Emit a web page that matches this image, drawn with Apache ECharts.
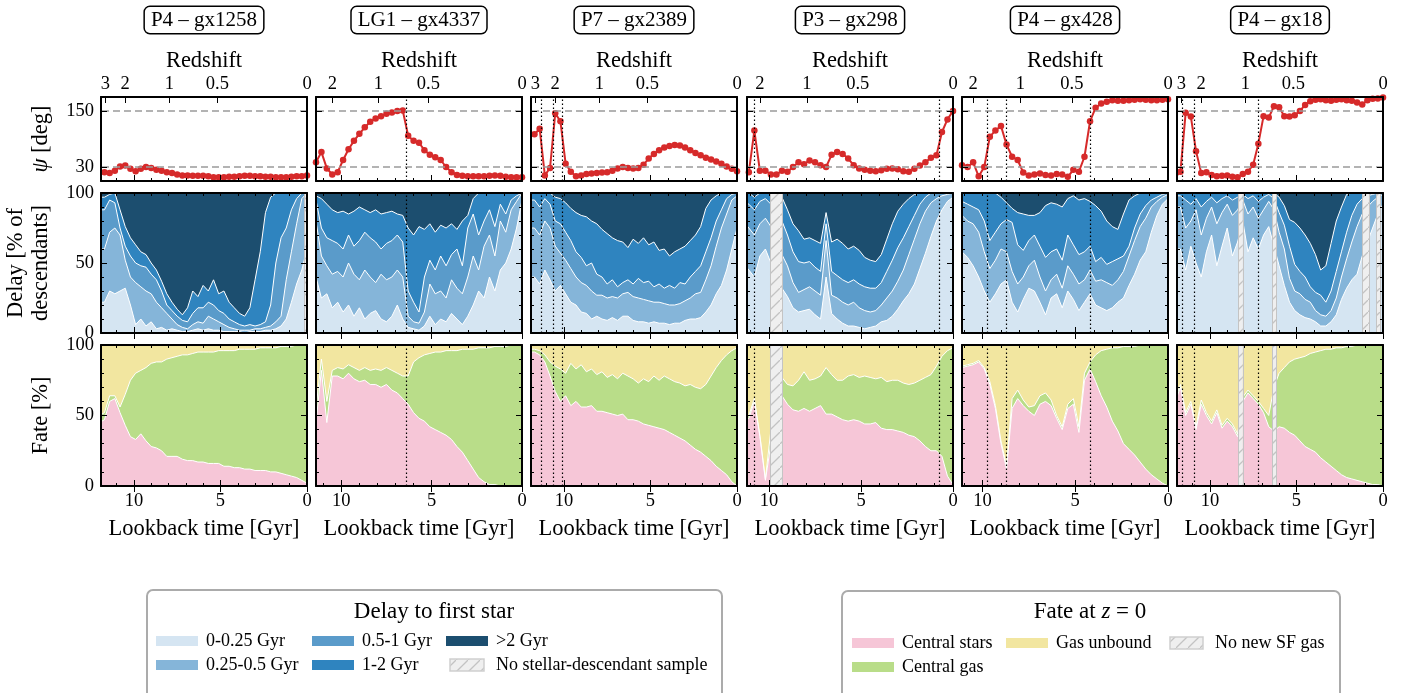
<!DOCTYPE html>
<html>
<head>
<meta charset="utf-8">
<title>Misalignment angle, delay to first star and fate of star-forming gas</title>
<script src="https://cdn.jsdelivr.net/npm/echarts@6.0.0/dist/echarts.min.js"></script>
<style>
  html, body { margin: 0; padding: 0; background: #fff; }
  #chart { width: 1416px; height: 693px; }
</style>
</head>
<body>
<div id="chart"></div>
<script>
// ---------------------------------------------------------------- data
const galaxies = ['P4 – gx1258', 'LG1 – gx4337', 'P7 – gx2389', 'P3 – gx298', 'P4 – gx428', 'P4 – gx18'];

// lookback time of each snapshot [Gyr]
const lookback = [12.0, 11.7, 11.4, 11.1, 10.8, 10.5, 10.2, 9.9, 9.6, 9.3, 9.0, 8.7, 8.4, 8.1, 7.8, 7.5, 7.2, 6.9, 6.6, 6.3,
  6.0, 5.7, 5.4, 5.1, 4.8, 4.5, 4.2, 3.9, 3.6, 3.3, 3.0, 2.7, 2.4, 2.1, 1.8, 1.5, 1.2, 0.9, 0.6, 0.3, 0.0];

// oldest lookback time shown for each galaxy [Gyr]
const axisMaxGyr = [11.9, 11.4, 11.9, 11.2, 11.1, 11.9];

// redshift tick labels on the top axis and their lookback times
const redshiftLabels = ['3', '2', '1', '0.5', '0'];
const redshiftGyr = [11.65, 10.5, 7.95, 5.18, 0];
const gyrMinorTicks = [0, 1, 2, 3, 4, 5, 6, 7, 8, 9, 10, 11];
const gyrMajorTicks = [0, 5, 10];
const psiTicks = [30, 150];

// misalignment angle psi [deg], one row per galaxy
const psiDeg = [
  [19, 19, 17, 22, 31, 33, 26, 21, 26, 30, 28, 24, 22, 19, 17, 14, 12, 12, 11, 11, 11, 10, 8, 8, 8, 9, 9, 10, 11, 11, 10, 10, 9, 9, 8, 8, 8, 9, 10, 10, 12],
  [40, 40, 40, 62, 27, 14, 19, 45, 68, 86, 101, 115, 127, 134, 139, 144, 147, 150, 151, 97, 86, 82, 66, 56, 51, 45, 30, 19, 13, 11, 10, 10, 10, 10, 11, 12, 11, 9, 8, 8, 8],
  [95, 100, 112, 12, 28, 145, 128, 37, 20, 10, 12, 15, 16, 17, 18, 19, 22, 27, 30, 28, 27, 28, 35, 48, 58, 66, 72, 75, 77, 76, 72, 66, 60, 55, 50, 46, 42, 37, 31, 26, 21],
  [20, 20, 20, 19, 108, 22, 22, 14, 14, 22, 20, 30, 40, 36, 44, 40, 34, 30, 56, 62, 58, 48, 34, 27, 24, 22, 21, 23, 26, 27, 25, 21, 20, 26, 33, 40, 50, 55, 105, 132, 150],
  [34, 34, 34, 34, 30, 40, 10, 30, 95, 108, 118, 78, 52, 45, 18, 12, 14, 16, 13, 12, 15, 14, 9, 24, 20, 52, 128, 157, 166, 170, 173, 172, 172, 173, 174, 175, 174, 173, 173, 174, 175],
  [8, 20, 146, 138, 64, 17, 19, 13, 10, 11, 12, 9, 8, 15, 20, 35, 80, 139, 136, 160, 158, 139, 138, 141, 150, 163, 171, 174, 175, 173, 172, 174, 175, 173, 172, 168, 164, 173, 176, 177, 179]
];

// share of stellar descendants formed within a given delay [%, cumulative]
const delayBelow2 = [
  [97, 97, 99, 100, 88, 76, 68, 63, 58, 56, 50, 45, 37, 28, 22, 17, 13, 18, 30, 26, 34, 30, 38, 28, 30, 22, 18, 14, 12, 18, 38, 58, 86, 97, 100, 100, 100, 100, 100, 100, 100],
  [98, 98, 98, 96, 92, 88, 86, 87, 85, 87, 90, 88, 86, 88, 85, 86, 87, 85, 84, 75, 70, 76, 74, 78, 72, 77, 75, 78, 74, 80, 84, 96, 100, 100, 100, 100, 100, 100, 100, 100, 100],
  [100, 100, 100, 100, 100, 97, 96, 93, 89, 86, 84, 83, 80, 78, 74, 71, 68, 66, 65, 61, 67, 64, 68, 63, 65, 59, 60, 55, 58, 60, 62, 66, 70, 76, 89, 95, 98, 100, 100, 100, 100],
  [100, 100, 100, 100, 97, 100, 100, 100, 100, 97, 88, 78, 73, 67, 68, 66, 64, 86, 65, 67, 64, 60, 62, 59, 54, 52, 51, 56, 67, 78, 87, 92, 96, 99, 100, 100, 100, 100, 100, 100, 100],
  [100, 100, 100, 100, 100, 100, 100, 100, 100, 100, 97, 93, 89, 86, 85, 84, 84, 86, 91, 93, 92, 90, 96, 98, 95, 96, 94, 91, 87, 80, 76, 74, 85, 95, 98, 100, 100, 100, 100, 100, 100],
  [100, 100, 100, 100, 100, 100, 100, 100, 100, 100, 100, 100, 100, 100, 100, 100, 100, 100, 100, 100, 97, 91, 81, 79, 75, 70, 64, 56, 45, 48, 64, 80, 90, 99, 100, 100, 100, 100, 100, 100, 100]
];
const delayBelow1 = [
  [88, 88, 95, 93, 75, 62, 55, 50, 48, 47, 42, 38, 30, 20, 16, 12, 9, 8, 14, 18, 18, 22, 20, 16, 14, 10, 8, 6, 5, 6, 5, 6, 8, 20, 50, 68, 75, 88, 96, 100, 100],
  [95, 95, 95, 75, 68, 66, 64, 60, 70, 62, 66, 72, 68, 65, 60, 64, 66, 70, 65, 30, 22, 15, 40, 52, 45, 55, 48, 56, 60, 48, 75, 85, 70, 80, 88, 76, 92, 85, 95, 98, 100],
  [95, 95, 90, 96, 92, 80, 78, 72, 66, 58, 54, 48, 50, 42, 40, 35, 38, 33, 36, 38, 35, 39, 36, 37, 33, 35, 32, 34, 32, 36, 35, 40, 44, 48, 58, 68, 80, 88, 96, 99, 100],
  [95, 95, 95, 92, 88, 94, 96, 92, 88, 80, 70, 58, 51, 50, 51, 47, 44, 78, 44, 41, 38, 36, 38, 35, 33, 32, 32, 36, 44, 52, 61, 68, 76, 84, 92, 97, 100, 100, 100, 100, 100],
  [95, 95, 95, 94, 92, 90, 88, 80, 66, 72, 78, 81, 79, 63, 59, 66, 70, 62, 54, 58, 60, 52, 70, 63, 56, 58, 62, 51, 54, 49, 51, 53, 55, 62, 75, 85, 91, 95, 97, 99, 100],
  [98, 98, 95, 92, 96, 90, 94, 97, 93, 96, 98, 95, 97, 99, 96, 98, 94, 97, 99, 96, 86, 77, 62, 49, 44, 40, 33, 29, 27, 22, 30, 44, 58, 72, 84, 92, 96, 98, 99, 100, 100]
];
const delayBelow05 = [
  [60, 60, 72, 75, 70, 52, 40, 36, 33, 30, 28, 22, 18, 14, 10, 6, 4, 3, 6, 8, 7, 12, 10, 8, 6, 4, 3, 2, 2, 2, 3, 3, 4, 5, 8, 12, 38, 58, 78, 96, 100],
  [80, 80, 80, 55, 48, 42, 44, 40, 50, 42, 38, 45, 40, 36, 42, 38, 40, 45, 40, 12, 8, 7, 15, 35, 28, 30, 25, 38, 32, 28, 40, 55, 45, 62, 70, 55, 80, 72, 88, 94, 100],
  [75, 75, 70, 80, 75, 62, 57, 52, 46, 40, 36, 34, 30, 27, 27, 25, 26, 25, 28, 29, 26, 25, 24, 23, 22, 22, 21, 20, 20, 21, 23, 25, 28, 29, 38, 48, 62, 75, 85, 95, 98],
  [80, 80, 80, 75, 70, 78, 82, 76, 68, 56, 48, 36, 29, 31, 33, 30, 27, 66, 27, 25, 22, 20, 22, 18, 16, 15, 16, 20, 25, 30, 37, 45, 56, 67, 78, 87, 93, 96, 98, 99, 100],
  [85, 85, 85, 84, 80, 78, 72, 58, 46, 52, 60, 58, 44, 35, 40, 48, 52, 40, 30, 38, 42, 32, 48, 42, 35, 38, 45, 37, 38, 36, 34, 38, 44, 55, 66, 76, 82, 90, 94, 97, 99],
  [90, 90, 75, 80, 88, 70, 82, 90, 78, 86, 92, 84, 88, 95, 85, 90, 82, 88, 94, 88, 72, 60, 39, 30, 28, 24, 22, 16, 13, 12, 16, 25, 40, 53, 65, 76, 85, 90, 94, 97, 99]
];
const delayBelow025 = [
  [22, 22, 30, 28, 30, 32, 20, 6, 10, 5, 8, 3, 4, 2, 3, 2, 1, 1, 2, 3, 2, 3, 2, 2, 1, 1, 1, 1, 0, 1, 1, 1, 2, 2, 3, 5, 10, 22, 35, 45, 60],
  [40, 40, 40, 25, 28, 18, 22, 15, 20, 12, 18, 10, 14, 16, 10, 8, 12, 20, 10, 4, 3, 2, 5, 12, 6, 10, 8, 14, 10, 6, 12, 20, 30, 25, 40, 30, 45, 50, 60, 75, 95],
  [40, 40, 35, 45, 38, 30, 34, 28, 22, 20, 15, 14, 10, 12, 10, 9, 11, 9, 12, 12, 9, 8, 8, 7, 8, 7, 7, 6, 7, 7, 9, 10, 10, 11, 15, 20, 28, 34, 45, 60, 75],
  [50, 50, 50, 45, 40, 55, 60, 50, 42, 32, 26, 18, 15, 16, 17, 13, 10, 40, 14, 10, 7, 5, 5, 4, 3, 4, 5, 8, 9, 12, 17, 23, 28, 35, 46, 57, 69, 80, 88, 94, 97],
  [60, 60, 60, 58, 54, 48, 40, 30, 22, 28, 35, 38, 22, 15, 24, 32, 30, 22, 13, 25, 28, 18, 30, 24, 16, 22, 28, 20, 18, 16, 18, 22, 25, 34, 42, 52, 58, 72, 84, 92, 96],
  [60, 60, 45, 62, 50, 40, 58, 70, 48, 62, 75, 55, 65, 80, 58, 68, 60, 70, 76, 62, 48, 34, 22, 16, 13, 11, 10, 8, 5, 5, 8, 13, 24, 32, 38, 42, 55, 65, 75, 85, 92]
];

// fate at z = 0 of newly star-forming gas [%]: central stars, and central stars + central gas
const fateStars = [
  [45, 47, 60, 62, 52, 43, 35, 33, 37, 32, 28, 27, 25, 21, 21, 21, 19, 18, 18, 17, 17, 16, 16, 16, 14, 14, 13, 13, 12, 12, 11, 11, 11, 10, 10, 9, 8, 7, 6, 4, 2],
  [45, 45, 45, 82, 45, 78, 78, 76, 80, 76, 74, 75, 72, 72, 70, 72, 68, 66, 62, 58, 52, 48, 46, 42, 40, 38, 36, 33, 28, 24, 18, 12, 6, 3, 1, 1, 0, 0, 0, 0, 0],
  [95, 95, 93, 88, 78, 67, 60, 64, 57, 60, 56, 56, 57, 53, 53, 52, 51, 50, 51, 47, 47, 46, 44, 43, 42, 41, 40, 38, 36, 34, 32, 29, 26, 24, 21, 18, 14, 11, 8, 3, 0],
  [45, 45, 45, 48, 60, 35, 4, 30, 50, 64, 58, 54, 53, 55, 53, 55, 57, 51, 51, 49, 47, 46, 47, 46, 44, 44, 45, 41, 40, 40, 39, 38, 36, 35, 32, 28, 25, 25, 21, 7, 1],
  [84, 84, 84, 84, 85, 86, 88, 83, 72, 55, 30, 12, 55, 62, 57, 53, 50, 58, 60, 57, 48, 40, 55, 58, 38, 75, 83, 74, 64, 56, 46, 39, 30, 26, 22, 17, 12, 8, 5, 2, 0],
  [60, 70, 50, 58, 40, 58, 50, 44, 52, 41, 46, 42, 35, 60, 66, 62, 58, 52, 42, 39, 42, 41, 38, 36, 32, 28, 26, 24, 20, 17, 14, 11, 8, 6, 5, 4, 3, 2, 1, 1, 0]
];
const fateCentral = [
  [50, 52, 64, 64, 56, 65, 75, 80, 82, 84, 87, 88, 88, 90, 91, 92, 93, 93, 94, 95, 95, 95, 95, 96, 96, 96, 96, 97, 97, 97, 97, 98, 98, 98, 98, 99, 99, 99, 100, 100, 100],
  [55, 55, 55, 90, 60, 82, 84, 83, 86, 84, 82, 84, 82, 83, 82, 84, 82, 80, 78, 78, 88, 91, 93, 94, 95, 95, 96, 96, 96, 97, 97, 97, 98, 98, 98, 99, 99, 99, 100, 100, 100],
  [97, 97, 96, 93, 88, 85, 83, 80, 87, 83, 86, 81, 83, 79, 81, 77, 79, 76, 80, 78, 76, 73, 76, 74, 78, 75, 78, 76, 74, 73, 71, 72, 70, 69, 72, 78, 84, 89, 93, 96, 98],
  [46, 46, 46, 50, 62, 36, 5, 40, 65, 77, 72, 71, 75, 81, 75, 76, 78, 84, 79, 75, 75, 78, 79, 77, 78, 77, 76, 77, 74, 75, 75, 73, 72, 73, 75, 77, 79, 85, 92, 96, 98],
  [85, 85, 85, 85, 86, 87, 89, 84, 74, 57, 32, 14, 62, 68, 61, 56, 57, 64, 66, 61, 50, 42, 58, 62, 42, 80, 88, 93, 96, 97, 98, 98, 99, 99, 99, 100, 100, 100, 100, 100, 100],
  [62, 72, 52, 60, 42, 61, 52, 46, 54, 43, 48, 44, 37, 63, 68, 64, 60, 55, 50, 70, 80, 84, 88, 90, 91, 92, 94, 95, 96, 97, 97, 98, 98, 99, 99, 100, 100, 100, 100, 100, 100]
];

// lookback-time intervals [Gyr] without a stellar-descendant sample / without new SF gas
const noSampleDelay = [[[0.15, 0]], [], [], [[9.95, 9.27]], [], [[8.35, 8.1], [6.38, 6.14], [1.21, 0.81], [0.4, 0.17]]];
const noSampleFate = [[], [], [], [[9.95, 9.27]], [], [[8.35, 8.1], [6.38, 6.14]]];

// lookback times [Gyr] of the marked transitions
const transitionGyr = [[], [6.4], [11.3, 10.6, 10.1], [10.8, 0.76], [9.75, 8.7, 4.2], [11.6, 10.9, 7.2]];

const delayNames = ['0-0.25 Gyr', '0.25-0.5 Gyr', '0.5-1 Gyr', '1-2 Gyr', '>2 Gyr'];
const delayColors = ['#d5e5f2', '#85b5d9', '#5a9bca', '#2f84bf', '#1c4e6f'];
const fateNames = ['Central stars', 'Central gas', 'Gas unbound'];
const fateColors = ['#f6c6d7', '#b9dd89', '#f2e6a0'];
const psiColor = '#d62a2a';

// ---------------------------------------------------------------- layout
const SERIF = 'Liberation Serif';
const colLeft = [101, 316, 531, 747, 962, 1177];
const panelW = 206;
const rowTop = [97, 193, 345];
const rowH = [84, 140, 141];
const rowNames = ['{i|ψ} [deg]', 'Delay [% of\ndescendants]', 'Fate [%]'];

const black = '#000';
const tickStyle = { color: black, width: 1 };
const labelFont = { color: black, fontFamily: SERIF, fontSize: 18.5 };
const nameFont = { color: black, fontFamily: SERIF, fontSize: 22.5 };

function makeHatch() {
  const cv = document.createElement('canvas');
  cv.width = 12; cv.height = 12;
  const ctx = cv.getContext('2d');
  ctx.fillStyle = '#efefef';
  ctx.fillRect(0, 0, 12, 12);
  ctx.strokeStyle = '#c3c3c3';
  ctx.lineWidth = 1.3;
  ctx.beginPath();
  ctx.moveTo(-1, 13); ctx.lineTo(13, -1);
  ctx.stroke();
  return { image: cv, repeat: 'repeat' };
}
const HATCH = makeHatch();

const grid = [], xAxis = [], yAxis = [], series = [];
const addX = o => { xAxis.push(o); return xAxis.length - 1; };
const addY = o => { yAxis.push(o); return yAxis.length - 1; };

function xCommon(g, xmax) {
  return { gridIndex: g, type: 'value', min: 0, max: xmax, inverse: true, z: 10,
           splitLine: { show: false }, minorTick: { show: false } };
}

function buildAxes(r, c, g) {
  const xmax = axisMaxGyr[c];
  const minorT = gyrMinorTicks.filter(v => v <= xmax);
  const majorT = gyrMajorTicks.filter(v => v <= xmax);
  const frame = { show: true, onZero: false, lineStyle: { color: black, width: 2 } };

  const xi = addX(Object.assign(xCommon(g, xmax), {
    position: 'bottom', axisLine: frame,
    axisTick: { show: true, inside: true, length: 3, customValues: minorT, lineStyle: tickStyle },
    axisLabel: { show: false }
  }));
  addX(Object.assign(xCommon(g, xmax), {
    position: 'bottom', axisLine: { show: false },
    axisTick: { show: true, inside: true, length: 6, customValues: majorT, lineStyle: tickStyle },
    axisLabel: r === 2 ? Object.assign({ show: true, customValues: majorT, margin: 6 }, labelFont) : { show: false },
    name: r === 2 ? 'Lookback time [Gyr]' : '', nameLocation: 'middle', nameGap: 32, nameTextStyle: nameFont
  }));
  if (r === 0) {
    const zT = redshiftGyr.filter(v => v <= xmax);
    addX(Object.assign(xCommon(g, xmax), {
      position: 'top', axisLine: frame,
      axisTick: { show: true, inside: true, length: 6, customValues: zT, lineStyle: tickStyle },
      axisLabel: Object.assign({
        show: true, customValues: zT, margin: 3,
        formatter: v => redshiftLabels[redshiftGyr.findIndex(t => Math.abs(t - v) < 1e-6)] || ''
      }, labelFont),
      name: 'Redshift', nameLocation: 'middle', nameGap: 24, nameTextStyle: nameFont
    }));
  } else {
    addX(Object.assign(xCommon(g, xmax), {
      position: 'top', axisLine: frame,
      axisTick: { show: true, inside: true, length: 3, customValues: minorT, lineStyle: tickStyle },
      axisLabel: { show: false }
    }));
    addX(Object.assign(xCommon(g, xmax), {
      position: 'top', axisLine: { show: false },
      axisTick: { show: true, inside: true, length: 6, customValues: majorT, lineStyle: tickStyle },
      axisLabel: { show: false }
    }));
  }

  const isPsi = r === 0;
  const yc = { gridIndex: g, type: 'value', min: 0, max: isPsi ? 180 : 100, z: 10,
               splitLine: { show: false }, axisLine: frame };
  const yt = isPsi
    ? { axisTick: { show: true, inside: true, length: 6, customValues: psiTicks, lineStyle: tickStyle }, minorTick: { show: false } }
    : { interval: 50, axisTick: { show: true, inside: true, length: 6, lineStyle: tickStyle },
        minorTick: { show: true, splitNumber: 5, length: 3, lineStyle: tickStyle } };
  let yLabel = { show: false };
  if (c === 0) {
    yLabel = Object.assign({ show: true, margin: 7 }, labelFont);
    if (isPsi) yLabel.customValues = psiTicks;
  }
  const yName = c === 0 ? {
    name: rowNames[r], nameLocation: 'middle', nameRotate: 90, nameGap: 47,
    nameTextStyle: Object.assign({ lineHeight: 25, rich: { i: { fontStyle: 'italic', fontFamily: SERIF, fontSize: 22.5, color: black } } }, nameFont)
  } : {};
  const yi = addY(Object.assign({}, yc, yt, { position: 'left', axisLabel: yLabel }, yName));
  addY(Object.assign({}, yc, yt, { position: 'right', axisLabel: { show: false } }));
  return [xi, yi];
}

function layerSeries(xi, yi, name, color, values, withLine) {
  return {
    type: 'line', name, xAxisIndex: xi, yAxisIndex: yi, silent: true, z: 2,
    data: lookback.map((t, i) => [t, values(i)]),
    symbol: 'none', clip: true,
    lineStyle: { color: '#fff', width: withLine ? 1 : 0 },
    areaStyle: { color, opacity: 1, origin: 'start' }
  };
}

// hatched interval: a full-height filled band between its two lookback times
function hatchSeries(xi, yi, band) {
  return {
    type: 'line', xAxisIndex: xi, yAxisIndex: yi, silent: true, z: 4, clip: true,
    data: [[band[0], 100], [band[1], 100]], symbol: 'none',
    lineStyle: { width: 0 },
    areaStyle: { color: HATCH, opacity: 1, origin: 'start' }
  };
}

function markerSeries(xi, yi, r, c, bands) {
  const lines = [];
  if (r === 0) {
    psiTicks.forEach(v => lines.push({ yAxis: v, lineStyle: { color: '#9a9a9a', type: [7, 4], width: 1.5 } }));
  }
  bands.forEach(b => b.forEach(t => lines.push({ xAxis: t, lineStyle: { color: '#c4c4c4', type: 'solid', width: 1 } })));
  transitionGyr[c].forEach(t => lines.push({ xAxis: t, lineStyle: { color: black, type: [1.6, 2.4], width: 1.2 } }));
  return {
    type: 'line', xAxisIndex: xi, yAxisIndex: yi, silent: true, z: r === 0 ? 1 : 5,
    data: [], symbol: 'none',
    markLine: { silent: true, symbol: ['none', 'none'], label: { show: false }, animation: false, data: lines }
  };
}

for (let r = 0; r < 3; r++) {
  for (let c = 0; c < 6; c++) {
    const g = grid.length;
    grid.push({ left: colLeft[c], top: rowTop[r], width: panelW, height: rowH[r], containLabel: false, outerBoundsMode: 'none' });
    const [xi, yi] = buildAxes(r, c, g);
    if (r === 0) {
      series.push(markerSeries(xi, yi, r, c, []));
      series.push({
        type: 'line', name: 'psi', xAxisIndex: xi, yAxisIndex: yi, silent: true, z: 3, clip: true,
        data: lookback.map((t, i) => [t, psiDeg[c][i]]),
        symbol: 'circle', symbolSize: 6.5, showSymbol: true,
        itemStyle: { color: psiColor }, lineStyle: { color: psiColor, width: 2 }
      });
    } else if (r === 1) {
      // bands drawn from the longest delay down; each fills from its cumulative share to 0
      series.push(layerSeries(xi, yi, delayNames[4], delayColors[4], () => 100, false));
      series.push(layerSeries(xi, yi, delayNames[3], delayColors[3], i => delayBelow2[c][i], true));
      series.push(layerSeries(xi, yi, delayNames[2], delayColors[2], i => delayBelow1[c][i], true));
      series.push(layerSeries(xi, yi, delayNames[1], delayColors[1], i => delayBelow05[c][i], true));
      series.push(layerSeries(xi, yi, delayNames[0], delayColors[0], i => delayBelow025[c][i], true));
      noSampleDelay[c].forEach(b => series.push(hatchSeries(xi, yi, b)));
      series.push(markerSeries(xi, yi, r, c, noSampleDelay[c]));
    } else {
      series.push(layerSeries(xi, yi, fateNames[2], fateColors[2], () => 100, false));
      series.push(layerSeries(xi, yi, fateNames[1], fateColors[1], i => fateCentral[c][i], true));
      series.push(layerSeries(xi, yi, fateNames[0], fateColors[0], i => fateStars[c][i], true));
      noSampleFate[c].forEach(b => series.push(hatchSeries(xi, yi, b)));
      series.push(markerSeries(xi, yi, r, c, noSampleFate[c]));
    }
  }
}

// ---------------------------------------------------------------- titles and legends
const graphic = [];
galaxies.forEach((name, c) => {
  graphic.push({
    type: 'text', silent: true, z: 20,
    style: { text: name, x: colLeft[c] + panelW / 2, y: 20, align: 'center', verticalAlign: 'middle',
             fontFamily: SERIF, fontSize: 21, fill: black,
             padding: [3, 6, 2, 6], borderColor: black, borderWidth: 1.5, borderRadius: 5, backgroundColor: '#fff' }
  });
});

function legendText(text, x, y, size, align, rich) {
  const style = { text, x, y, align: align || 'left', verticalAlign: 'middle', fontFamily: SERIF, fontSize: size, fill: black };
  if (rich) style.rich = rich;
  return { type: 'text', silent: true, z: 20, style };
}
function swatch(x, y, w, h, fill, hatched) {
  return { type: 'rect', silent: true, z: 20, shape: { x, y, width: w, height: h },
           style: hatched ? { fill: HATCH, stroke: '#cfcfcf', lineWidth: 1.5 } : { fill } };
}

// delay legend
graphic.push({ type: 'rect', silent: true, z: 19, shape: { x: 147, y: 590, width: 575, height: 112, r: 6 },
               style: { fill: '#fff', stroke: '#ababab', lineWidth: 2 } });
graphic.push(legendText('Delay to first star', 434, 612, 23, 'center'));
const delaySlots = [[156, 641], [156, 665], [312, 641], [312, 665], [446, 641]];
delaySlots.forEach(([x, y], k) => {
  graphic.push(swatch(x, y - 5, 42, 10, delayColors[k]));
  graphic.push(legendText(delayNames[k], x + 50, y, 18));
});
graphic.push(swatch(450, 659, 34, 12, null, true));
graphic.push(legendText('No stellar-descendant sample', 496, 665, 18));

// fate legend
graphic.push({ type: 'rect', silent: true, z: 19, shape: { x: 842, y: 591, width: 498, height: 112, r: 6 },
               style: { fill: '#fff', stroke: '#ababab', lineWidth: 2 } });
graphic.push(legendText('Fate at {i|z} = 0', 1090, 612, 23, 'center',
  { i: { fontStyle: 'italic', fontFamily: SERIF, fontSize: 23, fill: black } }));
const fateSlots = [[852, 643], [852, 667], [1006, 643]];
fateSlots.forEach(([x, y], k) => {
  graphic.push(swatch(x, y - 5, 42, 10, fateColors[k]));
  graphic.push(legendText(fateNames[k], x + 50, y, 18));
});
graphic.push(swatch(1170, 637, 33, 12, null, true));
graphic.push(legendText('No new SF gas', 1215, 643, 18));

const chart = echarts.init(document.getElementById('chart'), null, { renderer: 'canvas' });
chart.setOption({
  animation: false,
  backgroundColor: '#fff',
  grid, xAxis, yAxis, series, graphic
});
</script>
</body>
</html>
